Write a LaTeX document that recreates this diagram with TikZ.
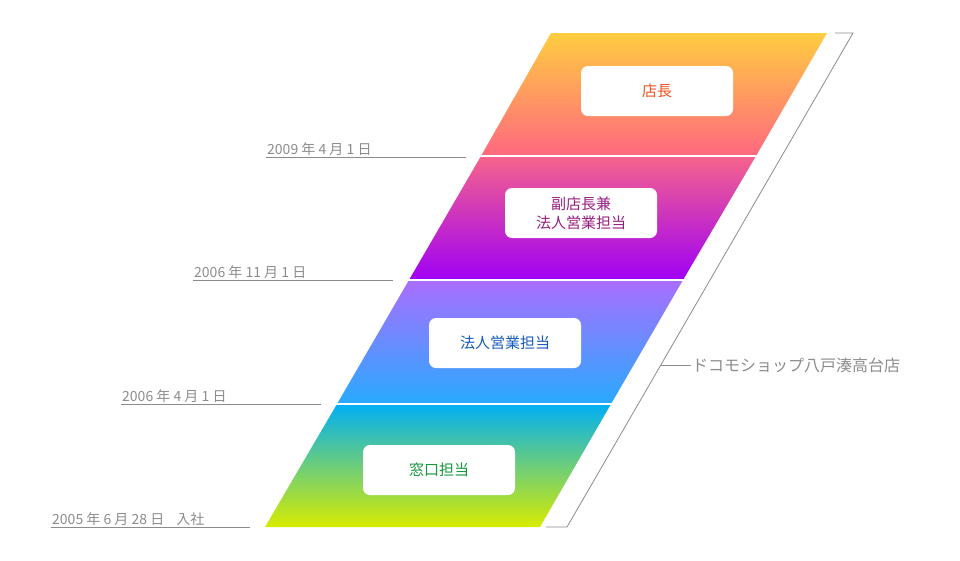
\documentclass[tikz,border=0pt]{standalone}
\usepackage{fontspec}
\setmainfont{Noto Sans CJK JP}
\usetikzlibrary{positioning}
\definecolor{datagray}{HTML}{8C8C8C}
\begin{document}
\begin{tikzpicture}[
    x=1pt, y=-1pt,
    post/.style={rectangle, rounded corners=7pt, fill=white, minimum width=152pt, minimum height=50pt, inner sep=2pt, align=center, font=\fontsize{15}{19}\selectfont},
    datelbl/.style={anchor=south west, inner sep=1pt, text=datagray, font=\fontsize{14}{16}\selectfont},
    rule/.style={draw=datagray, line width=0.8pt}
  ]
    \useasboundingbox (0,0) rectangle (960,560);
    % bands
    \shade[top color={rgb,255:red,255;green,205;blue,64}, middle color={rgb,255:red,255;green,122;blue,64}, bottom color={rgb,255:red,255;green,104;blue,128}]
      (551,33) -- (827,33) -- (756,156) -- (481,156) -- cycle;
    \shade[top color={rgb,255:red,245;green,100;blue,140}, middle color={rgb,255:red,190;green,0;blue,125}, bottom color={rgb,255:red,160;green,0;blue,245}]
      (481,156) -- (756,156) -- (683,280) -- (409,280) -- cycle;
    \shade[top color={rgb,255:red,170;green,110;blue,255}, middle color={rgb,255:red,50;green,80;blue,255}, bottom color={rgb,255:red,40;green,170;blue,255}]
      (409,280) -- (683,280) -- (611,404) -- (337,404) -- cycle;
    \shade[top color={rgb,255:red,0;green,175;blue,245}, middle color={rgb,255:red,0;green,210;blue,100}, bottom color={rgb,255:red,215;green,235;blue,0}]
      (337,404) -- (611,404) -- (540,527) -- (265,527) -- cycle;
    \foreach \ya/\xa/\xb in {156/481/756, 280/409/683, 404/337/611}
      \draw[white, line width=1.2pt] (\xa-2,\ya) -- (\xb+2,\ya);
    % posts
    \node[post, text={rgb,255:red,240;green,80;blue,30}] (manager) at (657,91) {店長};
    \node[post, text={rgb,255:red,150;green,30;blue,130}] (deputy) at (581,213) {副店長兼\\法人営業担当};
    \node[post, text={rgb,255:red,20;green,90;blue,190}] (corporate) at (505,343) {法人営業担当};
    \node[post, text={rgb,255:red,20;green,150;blue,60}] (counter) at (439,470) {窓口担当};
    % dates
    \coordinate (d1a) at (266,157); \coordinate (d1b) at (466,157);
    \coordinate (d2a) at (193,280); \coordinate (d2b) at (393,280);
    \coordinate (d3a) at (121,404); \coordinate (d3b) at (321,404);
    \coordinate (d4a) at (51,527);  \coordinate (d4b) at (250,527);
    \node[datelbl] (date1) at (d1a) {2009 年 4 月 1 日};
    \node[datelbl] (date2) at (d2a) {2006 年 11 月 1 日};
    \node[datelbl] (date3) at (d3a) {2006 年 4 月 1 日};
    \node[datelbl] (date4) at (d4a) {2005 年 6 月 28 日\hspace{12pt}入社};
    \draw[rule] (d1a) -- (d1b);
    \draw[rule] (d2a) -- (d2b);
    \draw[rule] (d3a) -- (d3b);
    \draw[rule] (d4a) -- (d4b);
    % shop bracket
    \coordinate (bt) at (853,33);
    \coordinate (bb) at (567,527);
    \coordinate (bm) at (660,365);
    \node[anchor=west, inner sep=1pt, text=datagray, font=\fontsize{16}{18}\selectfont] (shop) at (691,365) {ドコモショップ八戸湊高台店};
    \draw[rule] (835,33) -- (bt) -- (bb) -- (546,527);
    \draw[rule] (bm) -- (shop.west);
\end{tikzpicture}
\end{document}
